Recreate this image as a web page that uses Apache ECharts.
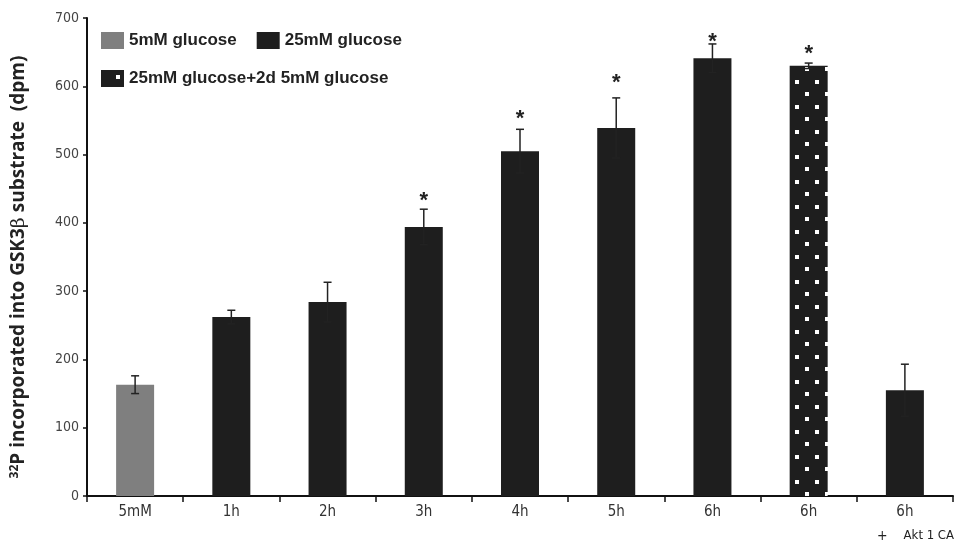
<!DOCTYPE html>
<html><head><meta charset="utf-8">
<script src="https://cdn.jsdelivr.net/npm/echarts@6/dist/echarts.min.js"></script>
<style>html,body{margin:0;padding:0;background:#fff}#c{width:956px;height:551px}</style>
</head><body><div id="c"></div>
<script>
const categories = ['5mM', '1h', '2h', '3h', '4h', '5h', '6h', '6h', '6h'];
const seriesNames = ['5mM glucose', '25mM glucose', '25mM glucose+2d 5mM glucose'];
const low5 = [163, null, null, null, null, null, null, null, null];
const high25 = [null, 262, 284, 394, 505, 539, 641, null, 155];
const high25then5 = [null, null, null, null, null, null, null, 630, null];
const means = [163, 262, 284, 394, 505, 539, 641, 630, 155];
const errors = [13, 10, 29, 26, 32, 44, 21, 4, 38];
const starValues = [null, null, null, 439, 559, 612, 672, 654, null];
const yTicks = { min: 0, max: 700, interval: 100 };
const yTitle = '{sup|32}{b|P incorporated into GSK3}{beta|β}{b| substrate  (dpm)}';
const footnoteSign = '+';
const footnoteText = 'Akt 1 CA';

function makePattern() {
  const c = document.createElement('canvas');
  c.width = 20; c.height = 25;
  const g = c.getContext('2d');
  g.fillStyle = '#1e1e1e'; g.fillRect(0, 0, 20, 25);
  g.fillStyle = '#ffffff';
  g.fillRect(15, 5, 4, 4);
  g.fillRect(5, 17, 4, 4);
  return c;
}
const pattern = { image: makePattern(), repeat: 'repeat' };

const chart = echarts.init(document.getElementById('c'), null, { renderer: 'canvas' });
const tickFont = '"DejaVu Sans Condensed", "Liberation Sans Narrow", sans-serif';
const errData = means.map((m, i) => [i, m - errors[i], m + errors[i]]);
const starData = starValues.map((v, i) => v == null ? null : [i, v]).filter(d => d);
const legendText = { fontFamily: 'Liberation Sans', fontWeight: 'bold', fontSize: 17, color: '#222' };

chart.setOption({
  animation: false,
  grid: { left: 87, right: 3, top: 18, bottom: 55 },
  legend: [
    { data: [seriesNames[0], seriesNames[1]], left: 96, top: 27, itemWidth: 23, itemHeight: 17, itemGap: 20,
      icon: 'rect', textStyle: legendText },
    { data: [seriesNames[2]], left: 96, top: 65, itemWidth: 23, itemHeight: 17,
      icon: 'rect', textStyle: legendText }
  ],
  xAxis: {
    type: 'category', data: categories,
    axisLine: { lineStyle: { color: '#111', width: 2 } },
    axisTick: { show: true, length: 6, lineStyle: { color: '#111', width: 1.5 } },
    axisLabel: { fontFamily: tickFont, fontSize: 15, color: '#333', margin: 9 }
  },
  yAxis: {
    type: 'value', min: yTicks.min, max: yTicks.max, interval: yTicks.interval,
    splitLine: { show: false },
    axisLine: { show: true, lineStyle: { color: '#111', width: 2 } },
    axisTick: { show: true, length: 4, lineStyle: { color: '#111', width: 1.5 } },
    axisLabel: { fontFamily: tickFont, fontSize: 14, color: '#444', margin: 8 }
  },
  series: [
    { name: seriesNames[0], type: 'bar', stack: 's', data: low5, barWidth: 38, itemStyle: { color: '#7f7f7f' } },
    { name: seriesNames[1], type: 'bar', stack: 's', data: high25, barWidth: 38, itemStyle: { color: '#1e1e1e' } },
    { name: seriesNames[2], type: 'bar', stack: 's', data: high25then5, barWidth: 38, itemStyle: { color: pattern } },
    {
      type: 'custom', data: errData, z: 5,
      renderItem: function (params, api) {
        const x = api.coord([api.value(0), 0])[0];
        const lo = api.coord([api.value(0), api.value(1)])[1];
        const hi = api.coord([api.value(0), api.value(2)])[1];
        const w = 4;
        const st = { stroke: '#222', lineWidth: 1.5 };
        return { type: 'group', children: [
          { type: 'line', shape: { x1: x, y1: lo, x2: x, y2: hi }, style: st },
          { type: 'line', shape: { x1: x - w, y1: hi, x2: x + w, y2: hi }, style: st },
          { type: 'line', shape: { x1: x - w, y1: lo, x2: x + w, y2: lo }, style: st }
        ] };
      }
    },
    {
      type: 'custom', data: starData, z: 6,
      renderItem: function (params, api) {
        const p = api.coord([api.value(0), api.value(1)]);
        return { type: 'text', x: p[0], y: p[1] + 5, style: { text: '*', fontFamily: 'Liberation Sans', fontWeight: 'bold', fontSize: 22, fill: '#222', align: 'center', verticalAlign: 'middle' } };
      }
    }
  ],
  graphic: [
    { type: 'text', x: 19, y: 267, rotation: Math.PI / 2,
      style: { text: yTitle, align: 'center', verticalAlign: 'middle',
        rich: {
          sup: { fontFamily: 'Open Sans', fontWeight: 'bold', fontSize: 12, fill: '#222', verticalAlign: 'top', padding: [0, 0, 9, 0] },
          b: { fontFamily: 'Open Sans', fontWeight: 'bold', fontSize: 19, fill: '#222' },
          beta: { fontFamily: 'DejaVu Serif', fontWeight: 'normal', fontSize: 19, fill: '#222' }
        } } },
    { type: 'text', left: 877, top: 529, style: { text: footnoteSign, fontFamily: tickFont, fontSize: 14, fill: '#222' } },
    { type: 'text', right: 2, top: 529, style: { text: footnoteText, fontFamily: tickFont, fontSize: 13, fill: '#222' } }
  ]
});
</script></body></html>
